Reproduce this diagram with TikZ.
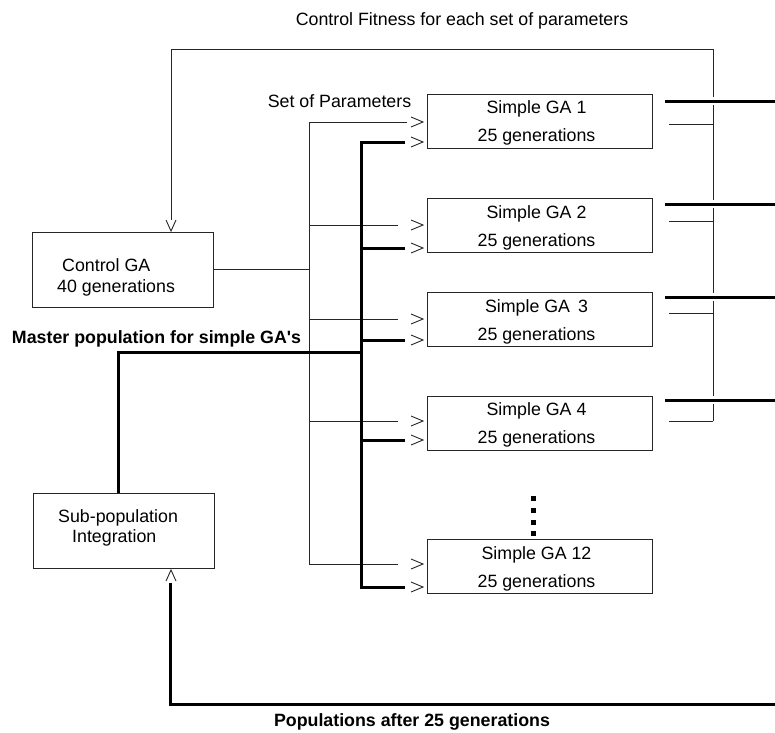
\documentclass[tikz,border=0pt]{standalone}
\usepackage{fontspec}
\setmainfont{Liberation Sans}
\begin{document}
\begin{tikzpicture}[x=1pt,y=-1pt,
  thinl/.style={line width=0.9pt, draw=black!85},
  thickl/.style={line width=3pt, draw=black},
  hopl/.style={line width=3pt, draw=black, preaction={draw=white, line width=8pt}},
  gabox/.style={draw=black!85, line width=0.9pt, minimum width=225pt, minimum height=54pt, inner sep=0pt},
  gatxt/.style={inner sep=0pt, align=center, font=\fontsize{17.8}{28}\selectfont},
  sbox/.style={draw=black!85, line width=0.9pt, minimum width=181pt, minimum height=75pt, inner sep=0pt},
  txt/.style={font=\fontsize{17.8}{21}\selectfont, inner sep=0pt},
  btxt/.style={font=\bfseries\fontsize{17.8}{21}\selectfont, inner sep=0pt},
  chev/.style={line width=0.9pt, draw=black!85},
  sqdot/.style={fill=black, minimum size=5pt, inner sep=0pt},
  chevr/.pic={\draw[chev] (-12,-5) -- (0,0) -- (-12,5);},
  chevd/.pic={\draw[chev] (-5,-11) -- (0,0) -- (5,-11);},
  chevu/.pic={\draw[chev] (-5,11) -- (0,0) -- (5,11);}
]
\useasboundingbox (0,0) rectangle (775,732);

% boxes
\node[gabox] (g1) at (539.5,121) {};
\node[gabox] (g2) at (539.5,225.5) {};
\node[gabox] (g3) at (539.5,319.5) {};
\node[gabox] (g4) at (539.5,423) {};
\node[gabox] (g12) at (539.5,566.5) {};
\node[gatxt] (t1) at ([xshift=-3pt,yshift=-2pt]g1.center) {Simple GA 1\\25 generations};
\node[gatxt] (t2) at ([xshift=-3pt,yshift=-2pt]g2.center) {Simple GA 2\\25 generations};
\node[gatxt] (t3) at ([xshift=-3pt,yshift=-2pt]g3.center) {Simple GA \,3\\25 generations};
\node[gatxt] (t4) at ([xshift=-3pt,yshift=-2pt]g4.center) {Simple GA 4\\25 generations};
\node[gatxt] (t12) at ([xshift=-3pt,yshift=-2pt]g12.center) {Simple GA 12\\25 generations};

\node[sbox] (cga) at (123,269.5) {};
\node[txt, anchor=base west] (cga1) at (62,271) {Control GA};
\node[txt, anchor=base west] (cga2) at (57,292) {40 generations};

\node[sbox] (sub) at (124,530.5) {};
\node[txt, anchor=base west] (sub1) at (58,522) {Sub-population};
\node[txt, anchor=base west] (sub2) at (72,542) {Integration};

% labels
\node[txt, anchor=base] (lcf) at (462,25) {Control Fitness for each set of parameters};
\node[txt, anchor=base] (lsp) at (339.5,107) {Set of Parameters};
\node[btxt, anchor=base] (lmp) at (156.5,343) {Master population for simple GA\textquotesingle s};
\node[btxt, anchor=base] (lpa) at (412,726) {Populations after 25 generations};

% dots
\foreach \yy in {498,510,522,533} \node[sqdot] at (533,\yy) {};

% feedback from simple GAs to control GA
\coordinate (fbtop) at (713,49);
\coordinate (fbleft) at (171,49);
\draw[thinl] (713,421) -- (fbtop) -- (fbleft) -- (171,220);
\pic at (171,231) {chevd};
\draw[thinl] (669,124) -- (713,124);
\draw[thinl] (669,221) -- (713,221);
\draw[thinl] (669,313) -- (713,313);
\draw[thinl] (669,421) -- (713,421);
\draw[hopl] (665,101) -- (775,101);
\draw[hopl] (665,204) -- (775,204);
\draw[hopl] (665,297) -- (775,297);
\draw[hopl] (665,400) -- (775,400);

% parameters bus
\draw[thinl] (cga.east) -- (309,269.5);
\draw[thinl] (407,122) -- (309,122) -- (309,564) -- (398,564);
\draw[thinl] (309,225) -- (398,225);
\draw[thinl] (309,319) -- (398,319);
\draw[thinl] (309,421) -- (398,421);

% population bus
\draw[thickl] (118,493) -- (118,352) -- (361,352);
\draw[thickl] (405,142) -- (361,142) -- (361,587) -- (405,587);
\draw[thickl] (361,248) -- (405,248);
\draw[thickl] (361,340) -- (405,340);
\draw[thickl] (361,440) -- (405,440);

% arrow heads
\foreach \yy in {122,142,225,248,319,340,421,440,564,587} \pic at (423,\yy) {chevr};

% return of populations
\draw[thickl] (775,704) -- (170,704) -- (170,583);
\pic at (171,570) {chevu};
\end{tikzpicture}
\end{document}
